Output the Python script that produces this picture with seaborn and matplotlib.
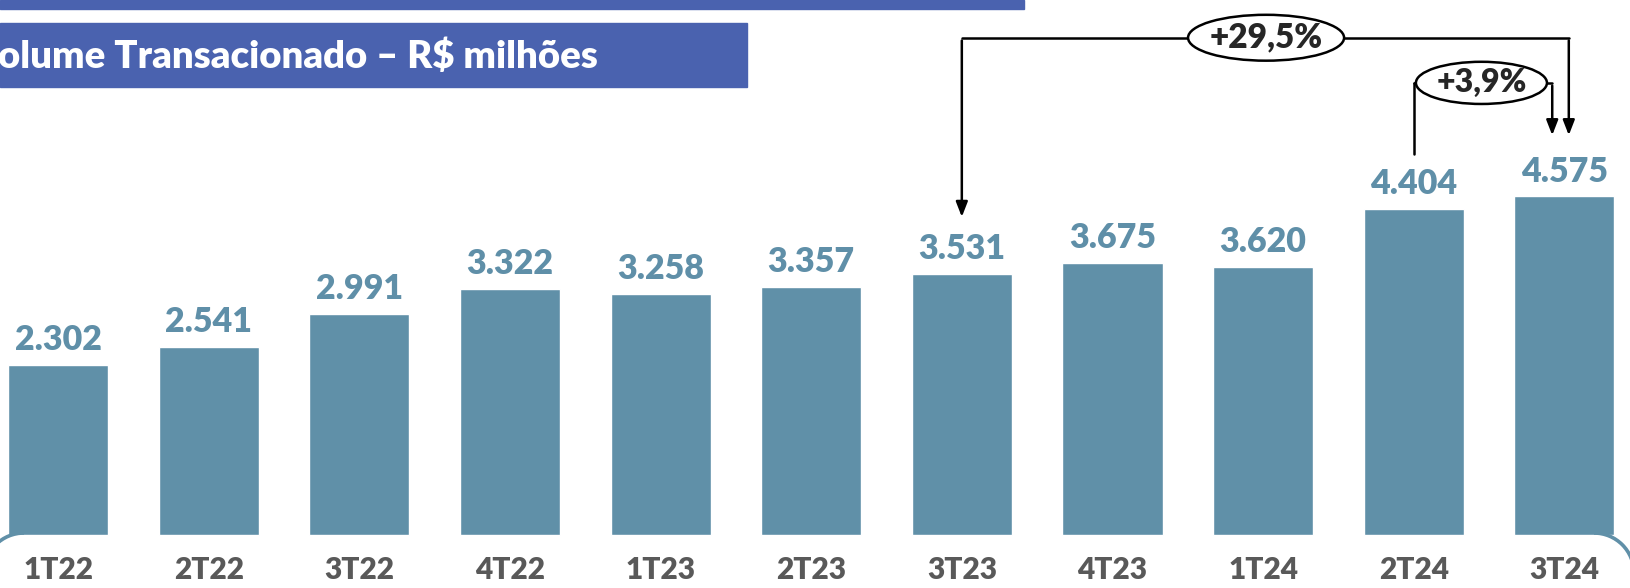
import pandas as pd
import seaborn as sns
import matplotlib.pyplot as plt
from matplotlib.patches import Rectangle, Ellipse, Arc

# Data
quarters = ['1T22', '2T22', '3T22', '4T22', '1T23', '2T23', '3T23', '4T23', '1T24', '2T24', '3T24']
volume = [2.302, 2.541, 2.991, 3.322, 3.258, 3.357, 3.531, 3.675, 3.620, 4.404, 4.575]
value_labels = ['2.302', '2.541', '2.991', '3.322', '3.258', '3.357', '3.531', '3.675', '3.620', '4.404', '4.575']
title = 'olume Transacionado – R$ milhões'
growth_year = '+29,5%'
growth_quarter = '+3,9%'

df = pd.DataFrame({'quarter': quarters, 'volume': volume})

bar_color = '#6090a8'
label_color = '#5f8fa8'
tick_color = '#595959'
banner_color = '#4a62af'

sns.set_style('white')
plt.rcParams['font.family'] = ['Lato', 'DejaVu Sans']

fig = plt.figure(figsize=(16.31, 5.88), dpi=100)
ax = fig.add_axes([0, 0, 1, 1])

sns.barplot(data=df, x='quarter', y='volume', color=bar_color, width=0.665,
            saturation=1, ax=ax)
ax.set_xlim(-0.386, 10.443)
ax.set_ylim(-0.716, 7.23)
ax.axis('off')

wt = 'heavy'

# value labels and quarter labels
for i, (v, lab) in enumerate(zip(volume, value_labels)):
    ax.text(i, v + 0.2, lab, ha='center', va='baseline', fontsize=24.5,
            fontweight=wt, color=label_color)
    ax.text(i, -0.47, quarters[i], ha='center', va='center', fontsize=21.5,
            fontweight=wt, color=tick_color)

# header bands
fig.patches.append(Rectangle((0, 1 - 8.5 / 588), 1024 / 1631, 8.5 / 588,
                             transform=fig.transFigure, color=banner_color, zorder=0))
fig.patches.append(Rectangle((0, 1 - 87 / 588), 747 / 1631, 64 / 588,
                             transform=fig.transFigure, color=banner_color, zorder=0))
fig.text(-0.001, 1 - 56 / 588, title, ha='left', va='center', fontsize=27.5,
         fontweight=wt, color='white')

# corners of the rounded frame at the bottom (inches)
fig.patches.append(Arc((0.24, 0.15), 0.8, 0.8, theta1=90, theta2=180,
                       transform=fig.dpi_scale_trans, color=bar_color, lw=2.6))
fig.patches.append(Arc((15.94, 0.15), 0.8, 0.8, theta1=0, theta2=90,
                       transform=fig.dpi_scale_trans, color=bar_color, lw=2.6))

# growth annotations
i_3t23 = quarters.index('3T23')
i_2t24 = quarters.index('2T24')
i_3t24 = quarters.index('3T24')
lw = 1.8
arrow_kw = dict(arrowstyle='-|>,head_length=0.9,head_width=0.35', color='black', lw=lw)

y1 = 6.72
ax.plot([i_3t23, i_3t24 + 0.03], [y1, y1], color='black', lw=lw, zorder=3)
ax.annotate('', xy=(i_3t23, volume[i_3t23] + 0.73), xytext=(i_3t23, y1), arrowprops=arrow_kw)
ax.annotate('', xy=(i_3t24 + 0.03, volume[i_3t24] + 0.79), xytext=(i_3t24 + 0.03, y1), arrowprops=arrow_kw)
ax.add_patch(Ellipse((8.02, y1), 1.036, 0.62, facecolor='white', edgecolor='black', lw=lw, zorder=4))
ax.text(8.02, y1, growth_year, ha='center', va='center', fontsize=24, fontweight=wt, zorder=5)

y2 = 6.11
ax.plot([i_2t24, i_2t24], [y2, volume[i_2t24] + 0.75], color='black', lw=lw, zorder=3)
ax.plot([i_2t24, i_3t24 - 0.08], [y2, y2], color='black', lw=lw, zorder=3)
ax.annotate('', xy=(i_3t24 - 0.08, volume[i_3t24] + 0.79), xytext=(i_3t24 - 0.08, y2), arrowprops=arrow_kw)
ax.add_patch(Ellipse((9.45, y2), 0.87, 0.57, facecolor='white', edgecolor='black', lw=lw, zorder=4))
ax.text(9.45, y2, growth_quarter, ha='center', va='center', fontsize=23, fontweight=wt, zorder=5)

fig.savefig('out.png', dpi=100)
